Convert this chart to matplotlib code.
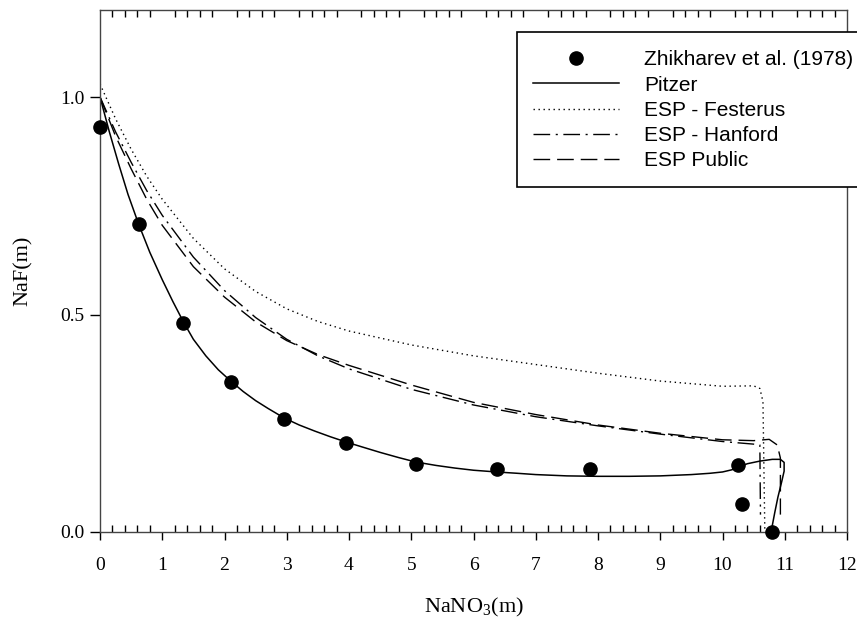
import numpy as np
import matplotlib
matplotlib.use("Agg")
import matplotlib.pyplot as plt
from matplotlib.ticker import MultipleLocator
from matplotlib.patches import Rectangle

plt.rcParams["mathtext.fontset"] = "custom"
plt.rcParams["mathtext.rm"] = "Liberation Serif"

# Zhikharev et al. (1978) data points
exp_x = [0.0, 0.62, 1.34, 2.10, 2.96, 3.95, 5.07, 6.37, 7.87, 10.25, 10.31, 10.79]
exp_y = [0.930, 0.708, 0.480, 0.345, 0.260, 0.205, 0.156, 0.145, 0.145, 0.153, 0.064, 0.0]

# Pitzer model
pitzer_x = [0.0, 0.15, 0.3, 0.45, 0.62, 0.8, 1.0, 1.17, 1.34, 1.5, 1.7, 1.9, 2.1, 2.3,
            2.5, 2.7, 2.96, 3.2, 3.45, 3.7, 3.95, 4.2, 4.5, 4.8, 5.07, 5.4, 5.7, 6.0,
            6.37, 6.7, 7.0, 7.5, 8.0, 8.5, 9.0, 9.5, 9.8, 10.0, 10.15, 10.25, 10.4,
            10.6, 10.8, 10.93, 10.99, 10.99, 10.95, 10.89, 10.84, 10.80, 10.79]
pitzer_y = [1.0, 0.920, 0.846, 0.776, 0.708, 0.643, 0.580, 0.530, 0.483, 0.443, 0.405,
            0.373, 0.347, 0.323, 0.302, 0.284, 0.262, 0.246, 0.232, 0.219, 0.207, 0.196,
            0.183, 0.171, 0.161, 0.153, 0.147, 0.142, 0.138, 0.135, 0.132, 0.129, 0.128,
            0.128, 0.129, 0.132, 0.135, 0.138, 0.143, 0.149, 0.157, 0.163, 0.167, 0.167,
            0.160, 0.140, 0.115, 0.080, 0.045, 0.015, 0.0]

# ESP - Festerus
fest_x = [0.0, 0.25, 0.5, 0.75, 1.0, 1.5, 2.0, 2.5, 3.0, 3.5, 4.0, 5.0, 6.0, 7.0, 8.0,
          9.0, 10.0, 10.5, 10.6, 10.65, 10.68]
fest_y = [1.03, 0.950, 0.880, 0.818, 0.765, 0.675, 0.605, 0.553, 0.513, 0.484, 0.462,
          0.430, 0.405, 0.385, 0.365, 0.347, 0.335, 0.336, 0.330, 0.300, 0.0]

# ESP - Hanford
hanf_x = [0.0, 0.25, 0.5, 0.75, 1.0, 1.5, 2.0, 2.5, 3.0, 3.5, 4.0, 5.0, 6.0, 7.0, 8.0,
          9.0, 10.0, 10.5, 10.6, 10.61]
hanf_y = [1.0, 0.920, 0.850, 0.785, 0.728, 0.632, 0.555, 0.493, 0.443, 0.405, 0.375,
          0.328, 0.292, 0.265, 0.244, 0.225, 0.208, 0.202, 0.200, 0.04]

# ESP Public
pub_x = [0.0, 0.25, 0.5, 0.75, 1.0, 1.5, 2.0, 2.5, 3.0, 3.5, 4.0, 5.0, 6.0, 7.0, 8.0,
         9.0, 10.0, 10.5, 10.75, 10.88, 10.93, 10.93]
pub_y = [1.0, 0.910, 0.835, 0.765, 0.705, 0.610, 0.540, 0.483, 0.440, 0.408, 0.383,
         0.338, 0.298, 0.270, 0.246, 0.227, 0.212, 0.210, 0.213, 0.200, 0.170, 0.04]

xticks = list(range(0, 13))
yticks = [0.0, 0.5, 1.0]

fig = plt.figure(figsize=(8.57, 6.22), dpi=100)
ax = fig.add_axes([100 / 857, 1 - 532 / 622, 747 / 857, 522 / 622])

ax.plot(exp_x, exp_y, "o", color="black", ms=9.5, label="Zhikharev et al. (1978)",
        zorder=5, clip_on=False)
ax.plot(pitzer_x, pitzer_y, color="black", lw=1.1, label="Pitzer")
ax.plot(fest_x, fest_y, color="black", lw=1.0, ls=(0, (1, 2.6)), label="ESP - Festerus")
ax.plot(hanf_x, hanf_y, color="black", lw=1.0, ls=(0, (12, 4, 1.5, 4)), label="ESP - Hanford")
ax.plot(pub_x, pub_y, color="black", lw=1.0, ls=(0, (12, 5)), label="ESP Public")

ax.set_xlim(0, 12)
ax.set_ylim(0, 1.2)
ax.set_xticks(xticks)
ax.set_yticks(yticks)
ax.set_yticklabels(["0.0", "0.5", "1.0"])
ax.xaxis.set_minor_locator(MultipleLocator(0.2))

ax.tick_params(axis="x", which="major", direction="out", length=6, width=1,
               labelsize=14, pad=12, top=False)
ax.tick_params(axis="x", which="minor", direction="in", length=5, width=1,
               top=True, bottom=True)
ax.tick_params(axis="y", which="major", direction="out", length=7, width=1,
               labelsize=14, pad=4)
for lab in ax.get_xticklabels() + ax.get_yticklabels():
    lab.set_fontfamily("Liberation Serif")

for sp in ax.spines.values():
    sp.set_color("#444444")
    sp.set_linewidth(1.0)

ax.set_xlabel("NaNO$_3$(m)", fontsize=16, family="Liberation Serif", labelpad=16)
ax.set_ylabel("NaF(m)", fontsize=16, family="Liberation Serif", labelpad=20)

# legend box runs off the right edge of the figure, as in the original
box = Rectangle((517 / 857, 1 - 187 / 622), 400 / 857, 155 / 622,
                transform=fig.transFigure, facecolor="white", edgecolor="black",
                lw=1.2, zorder=7, clip_on=False)
ax.add_artist(box)
leg = ax.legend(loc="upper left", bbox_to_anchor=(525 / 857, 1 - 42 / 622),
                bbox_transform=fig.transFigure, prop={"family": "Liberation Sans", "size": 15},
                frameon=False, handlelength=4.1, handletextpad=1.2, labelspacing=0.3,
                borderpad=0.4, borderaxespad=0)
leg.set_zorder(8)

fig.savefig("out.png", dpi=100)
